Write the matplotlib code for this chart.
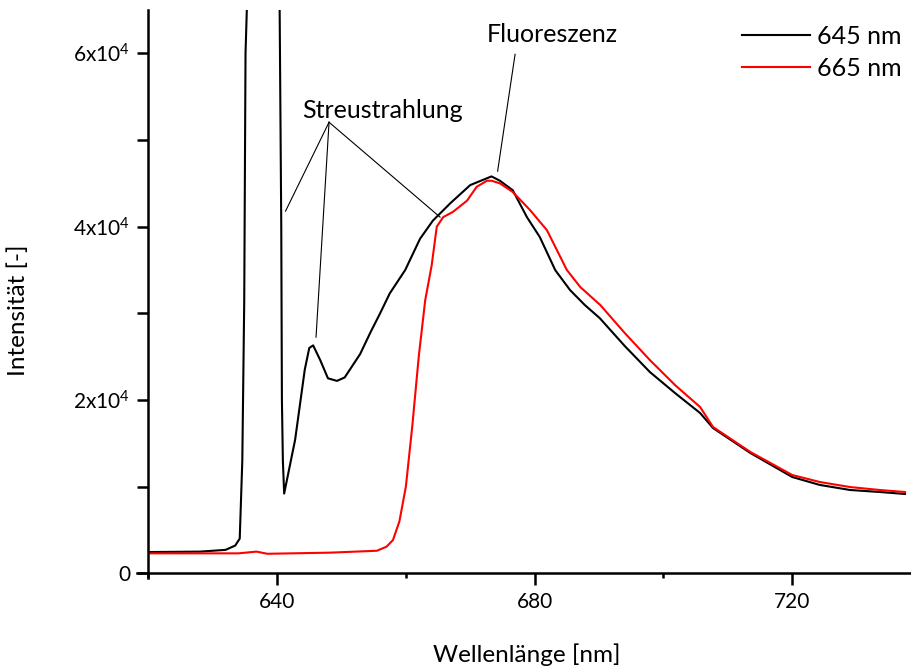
import numpy as np
import matplotlib
matplotlib.use('Agg')
import matplotlib.pyplot as plt
from matplotlib.ticker import MultipleLocator, FuncFormatter

plt.rcParams['font.family'] = ['Lato', 'DejaVu Sans']
plt.rcParams['mathtext.fontset'] = 'custom'
plt.rcParams['mathtext.rm'] = 'Lato'

# 645 nm excitation (black)
wl_645 = [620, 628, 632, 633.5, 634.2, 634.6, 634.9, 635.1, 635.5, 638.0,
          640.4, 640.65, 640.75, 640.9, 641.1, 642.8, 644.3, 645.0, 645.6,
          646.7, 647.9, 649.3, 650.5, 652.9, 654.5, 656.0, 657.5, 659.9,
          662.2, 664.2, 666.9, 670.0, 673.3, 674.6, 676.6, 678.8, 680.8,
          683.2, 685.5, 687.8, 690.1, 694.0, 697.9, 701.8, 705.7, 707.7,
          713.5, 720.0, 724.3, 729.0, 733.6, 737.5]
int_645 = [2450, 2500, 2700, 3200, 4000, 13000, 31500, 60000, 70000, 120000,
           65000, 40000, 20000, 13000, 9200, 15400, 23500, 26000, 26300,
           24600, 22500, 22200, 22600, 25300, 27800, 30000, 32300, 35000,
           38600, 40700, 42700, 44800, 45800, 45300, 44200, 41100, 38800,
           34980, 32680, 30950, 29450, 26220, 23220, 20800, 18490, 16760,
           13880, 11110, 10190, 9610, 9380, 9150]

# 665 nm excitation (red)
wl_665 = [620, 634.0, 636.8, 638.5, 648.2, 655.5, 657.0, 658.0, 659.0, 660.0,
          661.0, 662.0, 663.0, 664.0, 664.8, 665.8, 667.3, 669.5, 671.0,
          672.6, 673.3, 674.6, 676.6, 679.3, 681.9, 685.0, 687.1, 690.2,
          694.0, 697.9, 701.8, 705.7, 707.7, 713.5, 720.0, 724.3, 729.0,
          733.6, 737.5]
int_665 = [2300, 2300, 2500, 2250, 2380, 2600, 3070, 3840, 6000, 10000,
           17000, 25000, 31500, 35500, 40000, 41100, 41700, 43000, 44600,
           45300, 45300, 45000, 44000, 41900, 39600, 35000, 33020, 30950,
           27720, 24600, 21720, 19180, 16880, 14000, 11340, 10530, 9950,
           9610, 9380]

series_labels = ['645 nm', '665 nm']


def sci_fmt(v, pos):
    if v == 0:
        return '0'
    m = int(round(v / 1e4))
    return r'$\mathregular{%dx10^{4}}$' % m


fig = plt.figure(figsize=(9.12, 6.68), dpi=100)
ax = fig.add_axes([0.1626, 0.1418, 0.8374, 0.8432])

ax.plot(wl_645, int_645, color='black', lw=1.5, label=series_labels[0])
ax.plot(wl_665, int_665, color='red', lw=1.5, label=series_labels[1])

ax.set_xlim(620, 738.6)
ax.set_ylim(0, 65000)

ax.xaxis.set_major_locator(MultipleLocator(40))
ax.xaxis.set_minor_locator(MultipleLocator(20))
ax.yaxis.set_major_locator(MultipleLocator(20000))
ax.yaxis.set_minor_locator(MultipleLocator(10000))
ax.yaxis.set_major_formatter(FuncFormatter(sci_fmt))

for s in ['top', 'right']:
    ax.spines[s].set_visible(False)
for s in ['left', 'bottom']:
    ax.spines[s].set_linewidth(1.8)
ax.spines['bottom'].set_bounds(618.3, 738.6)
ax.spines['left'].set_bounds(-500, 65000)

ax.tick_params(axis='x', which='major', direction='out', length=8.5, width=1.8,
               labelsize=15, pad=5)
ax.tick_params(axis='x', which='minor', direction='out', length=3.6, width=1.8)
ax.tick_params(axis='y', which='both', direction='out', length=8, width=1.8,
               labelsize=15, pad=5)
ax.tick_params(axis='y', which='minor', labelleft=False)

fig.text(527 / 912, 1 - 655 / 668, 'Wellenlänge [nm]', fontsize=17.5,
         ha='center', va='center')
fig.text(18 / 912, 1 - 310 / 668, 'Intensität [-]', fontsize=17.5,
         ha='center', va='center', rotation=90)

# annotations
ax.text(656.44, 52510, 'Streustrahlung', fontsize=18, ha='center', va='baseline')
ax.plot([648.07, 641.31], [52050, 41790], color='black', lw=0.8)
ax.plot([648.07, 646.05], [52050, 27250], color='black', lw=0.8)
ax.plot([648.07, 665.31], [52050, 41100], color='black', lw=0.8)

ax.text(682.66, 61310, 'Fluoreszenz', fontsize=18, ha='center', va='baseline')
ax.plot([676.96, 674.25], [59890, 46400], color='black', lw=0.8)

ax.legend(loc='upper right', bbox_to_anchor=(902 / 912, 1 - 25 / 668),
          bbox_transform=fig.transFigure, frameon=False, borderpad=0,
          borderaxespad=0, fontsize=18, handlelength=2.72, handletextpad=0.28,
          labelspacing=0.35)

fig.savefig('out.png', dpi=100)
